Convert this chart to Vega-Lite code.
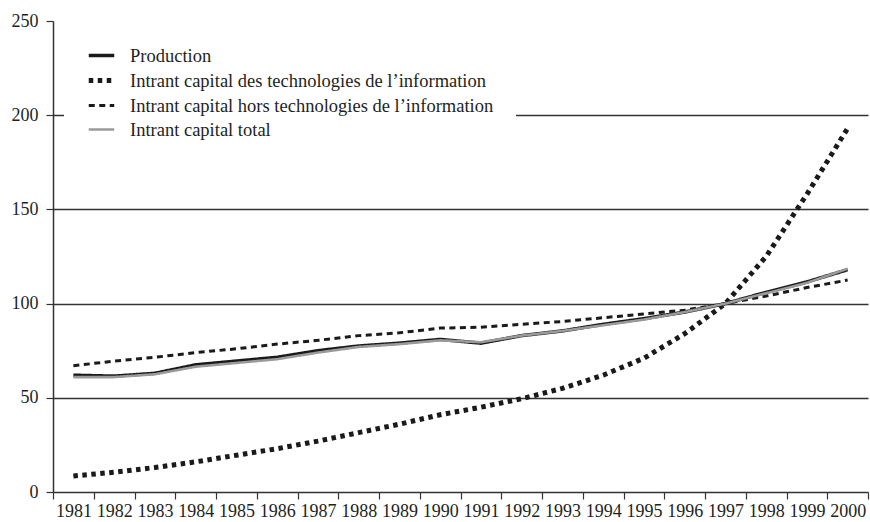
{
  "$schema": "https://vega.github.io/schema/vega-lite/v6.json",
  "width": 815,
  "height": 471,
  "autosize": "none",
  "padding": {"left": 53, "top": 21, "right": 2, "bottom": 30},
  "background": "white",
  "config": {
    "view": {"stroke": null},
    "font": "Liberation Serif",
    "axis": {"labelFont": "Liberation Serif", "labelFontSize": 18, "labelColor": "#231f20", "domainColor": "#333", "tickColor": "#333", "domainWidth": 1.5, "tickWidth": 1.2, "title": null},
    "legend": {"labelFont": "Liberation Serif", "labelFontSize": 18.5, "labelColor": "#231f20"}
  },
  "data": {"values": [
    {"year": "1981", "serie": "Production", "value": 62},
    {"year": "1982", "serie": "Production", "value": 61.5},
    {"year": "1983", "serie": "Production", "value": 63},
    {"year": "1984", "serie": "Production", "value": 67.5},
    {"year": "1985", "serie": "Production", "value": 69.5},
    {"year": "1986", "serie": "Production", "value": 71.5},
    {"year": "1987", "serie": "Production", "value": 75},
    {"year": "1988", "serie": "Production", "value": 77.5},
    {"year": "1989", "serie": "Production", "value": 79},
    {"year": "1990", "serie": "Production", "value": 81},
    {"year": "1991", "serie": "Production", "value": 79},
    {"year": "1992", "serie": "Production", "value": 83},
    {"year": "1993", "serie": "Production", "value": 85.5},
    {"year": "1994", "serie": "Production", "value": 89},
    {"year": "1995", "serie": "Production", "value": 92},
    {"year": "1996", "serie": "Production", "value": 95.5},
    {"year": "1997", "serie": "Production", "value": 100},
    {"year": "1998", "serie": "Production", "value": 106},
    {"year": "1999", "serie": "Production", "value": 111.5},
    {"year": "2000", "serie": "Production", "value": 118},
    {"year": "1981", "serie": "Intrant capital des technologies de l’information", "value": 8.5},
    {"year": "1982", "serie": "Intrant capital des technologies de l’information", "value": 10.5},
    {"year": "1983", "serie": "Intrant capital des technologies de l’information", "value": 13},
    {"year": "1984", "serie": "Intrant capital des technologies de l’information", "value": 16},
    {"year": "1985", "serie": "Intrant capital des technologies de l’information", "value": 19.5},
    {"year": "1986", "serie": "Intrant capital des technologies de l’information", "value": 23},
    {"year": "1987", "serie": "Intrant capital des technologies de l’information", "value": 27},
    {"year": "1988", "serie": "Intrant capital des technologies de l’information", "value": 31.5},
    {"year": "1989", "serie": "Intrant capital des technologies de l’information", "value": 36},
    {"year": "1990", "serie": "Intrant capital des technologies de l’information", "value": 41},
    {"year": "1991", "serie": "Intrant capital des technologies de l’information", "value": 45},
    {"year": "1992", "serie": "Intrant capital des technologies de l’information", "value": 49.5},
    {"year": "1993", "serie": "Intrant capital des technologies de l’information", "value": 55},
    {"year": "1994", "serie": "Intrant capital des technologies de l’information", "value": 62},
    {"year": "1995", "serie": "Intrant capital des technologies de l’information", "value": 71},
    {"year": "1996", "serie": "Intrant capital des technologies de l’information", "value": 84},
    {"year": "1997", "serie": "Intrant capital des technologies de l’information", "value": 100},
    {"year": "1998", "serie": "Intrant capital des technologies de l’information", "value": 125},
    {"year": "1999", "serie": "Intrant capital des technologies de l’information", "value": 158},
    {"year": "2000", "serie": "Intrant capital des technologies de l’information", "value": 193},
    {"year": "1981", "serie": "Intrant capital hors technologies de l’information", "value": 67},
    {"year": "1982", "serie": "Intrant capital hors technologies de l’information", "value": 69.5},
    {"year": "1983", "serie": "Intrant capital hors technologies de l’information", "value": 71.5},
    {"year": "1984", "serie": "Intrant capital hors technologies de l’information", "value": 74},
    {"year": "1985", "serie": "Intrant capital hors technologies de l’information", "value": 76},
    {"year": "1986", "serie": "Intrant capital hors technologies de l’information", "value": 78.5},
    {"year": "1987", "serie": "Intrant capital hors technologies de l’information", "value": 80.5},
    {"year": "1988", "serie": "Intrant capital hors technologies de l’information", "value": 83},
    {"year": "1989", "serie": "Intrant capital hors technologies de l’information", "value": 84.5},
    {"year": "1990", "serie": "Intrant capital hors technologies de l’information", "value": 87},
    {"year": "1991", "serie": "Intrant capital hors technologies de l’information", "value": 87.5},
    {"year": "1992", "serie": "Intrant capital hors technologies de l’information", "value": 89},
    {"year": "1993", "serie": "Intrant capital hors technologies de l’information", "value": 90.5},
    {"year": "1994", "serie": "Intrant capital hors technologies de l’information", "value": 92.5},
    {"year": "1995", "serie": "Intrant capital hors technologies de l’information", "value": 94.5},
    {"year": "1996", "serie": "Intrant capital hors technologies de l’information", "value": 96.5},
    {"year": "1997", "serie": "Intrant capital hors technologies de l’information", "value": 100},
    {"year": "1998", "serie": "Intrant capital hors technologies de l’information", "value": 104},
    {"year": "1999", "serie": "Intrant capital hors technologies de l’information", "value": 108.5},
    {"year": "2000", "serie": "Intrant capital hors technologies de l’information", "value": 112.5},
    {"year": "1981", "serie": "Intrant capital total", "value": 61},
    {"year": "1982", "serie": "Intrant capital total", "value": 61},
    {"year": "1983", "serie": "Intrant capital total", "value": 62.5},
    {"year": "1984", "serie": "Intrant capital total", "value": 66.5},
    {"year": "1985", "serie": "Intrant capital total", "value": 68.5},
    {"year": "1986", "serie": "Intrant capital total", "value": 70.5},
    {"year": "1987", "serie": "Intrant capital total", "value": 74},
    {"year": "1988", "serie": "Intrant capital total", "value": 77},
    {"year": "1989", "serie": "Intrant capital total", "value": 78.5},
    {"year": "1990", "serie": "Intrant capital total", "value": 80.5},
    {"year": "1991", "serie": "Intrant capital total", "value": 79.5},
    {"year": "1992", "serie": "Intrant capital total", "value": 83},
    {"year": "1993", "serie": "Intrant capital total", "value": 85.5},
    {"year": "1994", "serie": "Intrant capital total", "value": 88.5},
    {"year": "1995", "serie": "Intrant capital total", "value": 91.5},
    {"year": "1996", "serie": "Intrant capital total", "value": 95.5},
    {"year": "1997", "serie": "Intrant capital total", "value": 100},
    {"year": "1998", "serie": "Intrant capital total", "value": 105.5},
    {"year": "1999", "serie": "Intrant capital total", "value": 111},
    {"year": "2000", "serie": "Intrant capital total", "value": 118.5}
  ]},
  "mark": {"type": "line", "strokeCap": "butt", "strokeJoin": "round"},
  "encoding": {
    "x": {
      "field": "year", "type": "ordinal", "bandPosition": 0.5,
      "scale": {"type": "band", "paddingInner": 0, "paddingOuter": 0},
      "axis": {"labelAngle": 0, "tickBand": "extent", "tickSize": 7, "labelPadding": 3, "labelOverlap": false, "grid": false}
    },
    "y": {
      "field": "value", "type": "quantitative",
      "scale": {"domain": [0, 250], "nice": false},
      "axis": {
        "values": [0, 50, 100, 150, 200, 250], "tickSize": 7, "labelPadding": 8,
        "grid": true, "gridColor": "#333", "gridWidth": 1.4,
        "gridOpacity": {"condition": {"test": "datum.value == 0 || datum.value == 250", "value": 0}, "value": 1}
      }
    },
    "color": {
      "field": "serie", "type": "nominal",
      "scale": {
        "domain": ["Production", "Intrant capital des technologies de l’information", "Intrant capital hors technologies de l’information", "Intrant capital total"],
        "range": ["#1a1a1a", "#1a1a1a", "#1a1a1a", "#9a9a9a"]
      },
      "legend": {
        "title": null, "orient": "none", "legendX": 11, "legendY": -2,
        "fillColor": "white", "padding": 22, "symbolType": "stroke", "symbolSize": 650,
        "labelOffset": 13, "rowPadding": 0, "labelLimit": 600
      }
    },
    "strokeDash": {
      "field": "serie", "type": "nominal",
      "scale": {
        "domain": ["Production", "Intrant capital des technologies de l’information", "Intrant capital hors technologies de l’information", "Intrant capital total"],
        "range": [[1, 0], [4.5, 4.5], [6, 4.5], [1, 0]]
      },
      "legend": {"title": null}
    },
    "strokeWidth": {
      "field": "serie", "type": "nominal",
      "scale": {
        "type": "ordinal",
        "domain": ["Production", "Intrant capital des technologies de l’information", "Intrant capital hors technologies de l’information", "Intrant capital total"],
        "range": [3.5, 5, 3, 2.6]
      },
      "legend": {"title": null}
    }
  }
}
